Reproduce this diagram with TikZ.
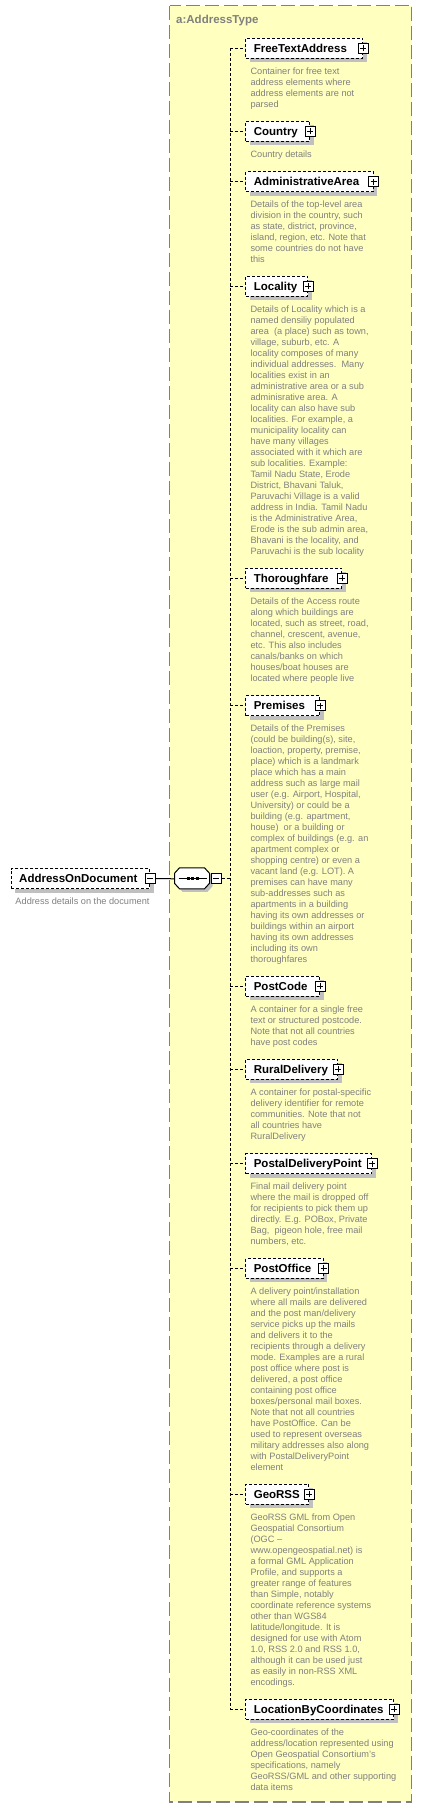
\documentclass[tikz,border=0pt]{standalone}
\usepackage{fontspec}
\setmainfont{Liberation Sans}
\usetikzlibrary{shadows}

\definecolor{typeyellow}{RGB}{255,255,192}
\definecolor{docgray}{RGB}{128,128,128}
\definecolor{shadowgray}{RGB}{192,192,192}
\hyphenpenalty=10000

\tikzset{
  elem/.style={draw, dash pattern=on 3pt off 2pt, fill=white, anchor=west,
    align=left, minimum height=20pt, inner xsep=8pt, inner ysep=0pt,
    text height=8.5pt, text depth=0pt,
    font=\bfseries\fontsize{11.5}{13}\selectfont,
    drop shadow={shadow xshift=4pt, shadow yshift=-4pt, fill=shadowgray, opacity=1}},
  % anchored at the baseline of the last line
  doc/.style={anchor=base west, align=left, inner sep=0pt, text=docgray,
    font=\fontsize{9.2}{11}\selectfont},
  conn/.style={dash pattern=on 3pt off 2pt},
  plusicon/.style={draw, solid, fill=white, minimum size=10pt, inner sep=0pt,
    path picture={\draw ([yshift=2pt]path picture bounding box.south) -- ([yshift=-2pt]path picture bounding box.north)
      ([xshift=2pt]path picture bounding box.west) -- ([xshift=-2pt]path picture bounding box.east);}},
  minusicon/.style={draw, solid, fill=white, minimum size=10pt, inner sep=0pt,
    path picture={\draw ([xshift=2pt]path picture bounding box.west) -- ([xshift=-2pt]path picture bounding box.east);}},
  seqbox/.style={minimum width=35pt, minimum height=21pt, inner sep=0pt}
}

\begin{document}
\begin{tikzpicture}[x=1pt,y=-1pt,line width=1pt]
  \useasboundingbox (0,0) rectangle (422,1809);

  % complex type frame
  \draw[draw=docgray, line width=1.5pt, dash pattern=on 14pt off 5pt, fill=typeyellow]
    (169.5,5.7) rectangle (411.7,1802);
  \node[anchor=base west, inner sep=0pt, text=docgray, font=\bfseries\fontsize{11.5}{13}\selectfont]
    (typename) at (175.7,23.3) {a:AddressType};

  % root element and sequence
  \node[elem, text width=122.6pt] (aod) at (10.7,878.5) {AddressOnDocument};
  \node[minusicon] (aod-x) at (aod.east) {};
  \node[doc] (aod-doc) at (15,904.5) {Address details on the document};
  \node[seqbox] (seq) at (192.5,878.8) {};
  \fill[shadowgray] (seq.north west) ++(8,3) -- ++(25,0) -- ++(5,5.5) -- ++(0,10) -- ++(-5,5.5)
    -- ++(-25,0) -- ++(-5,-5.5) -- ++(0,-10) -- cycle;
  \draw[fill=white] (seq.north west) ++(5,0) -- ++(25,0) -- ++(5,5.5) -- ++(0,10) -- ++(-5,5.5)
    -- ++(-25,0) -- ++(-5,-5.5) -- ++(0,-10) -- cycle;
  \draw ([xshift=4pt]seq.west) -- ([xshift=-4pt]seq.east);
  \foreach \d in {-4.5,0,4.5}
    \fill ([xshift=\d pt]seq.center) +(-1.5,-1.5) rectangle +(1.5,1.5);
  \node[minusicon, anchor=west] (seq-x) at (seq.east) {};
  \draw (aod-x.east) -- (seq.west);
  \coordinate (trunk) at (230.3,878.8);

  % children
  \node[elem, text width=101pt] (ftaddr) at (245.3,48.3) {FreeTextAddress};
  \node[doc] (ftaddr-doc) at (250,107.3) {Container for free text\\address elements where\\address elements are not\\parsed};

  \node[elem, text width=48pt] (country) at (245.3,131.5) {Country};
  \node[doc] (country-doc) at (250,157.5) {Country details};

  \node[elem, text width=111.4pt] (adminarea) at (245.3,181.6) {AdministrativeArea};
  \node[doc] (adminarea-doc) at (250,262.6) {Details of the top-level area\\division in the country, such\\as state, district, province,\\island, region, etc. Note that\\some countries do not have\\this};

  \node[elem, text width=46pt] (locality) at (245.3,286.3) {Locality};
  \node[doc] (locality-doc) at (250,554.3) {Details of Locality which is a\\named densiliy populated\\area\ \ (a place) such as town,\\village, suburb, etc. A\\locality composes of many\\individual addresses.\ \ Many\\localities exist in an\\administrative area or a sub\\adminisrative area. A\\locality can also have sub\\localities. For example, a\\municipality locality can\\have many villages\\associated with it which are\\sub localities. Example:\\Tamil Nadu State, Erode\\District, Bhavani Taluk,\\Paruvachi Village is a valid\\address in India. Tamil Nadu\\is the Administrative Area,\\Erode is the sub admin area,\\Bhavani is the locality, and\\Paruvachi is the sub locality};

  \node[elem, text width=80pt] (thorofare) at (245.3,578.3) {Thoroughfare};
  \node[doc] (thorofare-doc) at (250,681.3) {Details of the Access route\\along which buildings are\\located, such as street, road,\\channel, crescent, avenue,\\etc. This also includes\\canals/banks on which\\houses/boat houses are\\located where people live};

  \node[elem, text width=58pt] (premises) at (245.3,705.5) {Premises};
  \node[doc] (premises-doc) at (250,962.5) {Details of the Premises\\(could be building(s), site,\\loaction, property, premise,\\place) which is a landmark\\place which has a main\\address such as large mail\\user (e.g. Airport, Hospital,\\University) or could be a\\building (e.g. apartment,\\house)\ \ or a building or\\complex of buildings (e.g. an\\apartment complex or\\shopping centre) or even a\\vacant land (e.g. LOT). A\\premises can have many\\sub-addresses such as\\apartments in a building\\having its own addresses or\\buildings within an airport\\having its own addresses\\including its own\\thoroughfares};

  \node[elem, text width=58pt] (postcode) at (245.3,986.3) {PostCode};
  \node[doc] (postcode-doc) at (250,1045.3) {A container for a single free\\text or structured postcode.\\Note that not all countries\\have post codes};

  \node[elem, text width=76pt] (rural) at (245.3,1069.3) {RuralDelivery};
  \node[doc] (rural-doc) at (250,1139.3) {A container for postal-specific\\delivery identifier for remote\\communities. Note that not\\all countries have\\RuralDelivery};

  \node[elem, text width=110pt] (pdp) at (245.3,1163.5) {PostalDeliveryPoint};
  \node[doc] (pdp-doc) at (250,1244.5) {Final mail delivery point\\where the mail is dropped off\\for recipients to pick them up\\directly. E.g. POBox, Private\\Bag,\ \ pigeon hole, free mail\\numbers, etc.};

  \node[elem, text width=61.4pt] (postoffice) at (245.3,1268.3) {PostOffice};
  \node[doc] (postoffice-doc) at (250,1470.3) {A delivery point/installation\\where all mails are delivered\\and the post man/delivery\\service picks up the mails\\and delivers it to the\\recipients through a delivery\\mode. Examples are a rural\\post office where post is\\delivered, a post office\\containing post office\\boxes/personal mail boxes.\\Note that not all countries\\have PostOffice. Can be\\used to represent overseas\\military addresses also along\\with PostalDeliveryPoint\\element};

  \node[elem, text width=47pt] (georss) at (245.3,1494.3) {GeoRSS};
  \node[doc] (georss-doc) at (250,1685.3) {GeoRSS GML from Open\\Geospatial Consortium\\(OGC –\\www.opengeospatial.net) is\\a formal GML Application\\Profile, and supports a\\greater range of features\\than Simple, notably\\coordinate reference systems\\other than WGS84\\latitude/longitude. It is\\designed for use with Atom\\1.0, RSS 2.0 and RSS 1.0,\\although it can be used just\\as easily in non-RSS XML\\encodings.};

  \node[elem, text width=132pt] (locbycoord) at (245.3,1709.3) {LocationByCoordinates};
  \node[doc] (locbycoord-doc) at (250,1790.3) {Geo-coordinates of the\\address/location represented using\\Open Geospatial Consortium's\\specifications, namely\\GeoRSS/GML and other supporting\\data items};

  % connectors
  \draw[conn] (seq-x.east) -- (trunk);
  \draw[conn] (trunk |- ftaddr.west) -- (trunk |- locbycoord.west);
  \foreach \n in {ftaddr,country,adminarea,locality,thorofare,premises,postcode,rural,pdp,postoffice,georss,locbycoord} {
    \draw[conn] (trunk |- \n.west) -- (\n.west);
    \node[plusicon] (\n-x) at (\n.east) {};
  }
\end{tikzpicture}
\end{document}
